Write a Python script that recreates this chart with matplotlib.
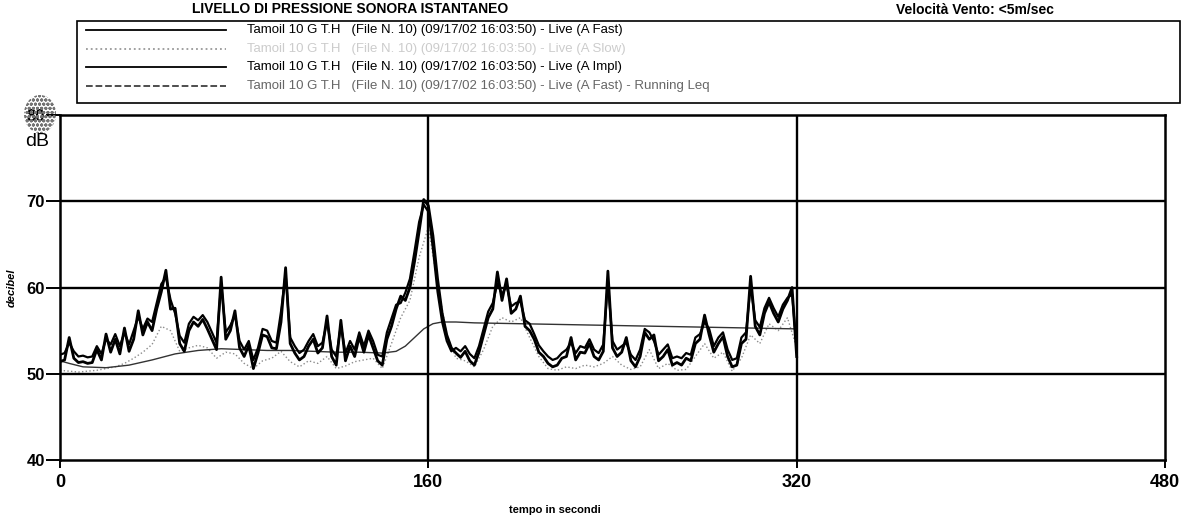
import numpy as np
import matplotlib
matplotlib.use("Agg")
import matplotlib.pyplot as plt
from matplotlib.patches import Rectangle, Ellipse
from matplotlib.lines import Line2D

plt.rcParams['font.family'] = ['Liberation Sans', 'DejaVu Sans']

# livello A Fast, un campione ogni 2 s (0..320 s)
fast_db = [
    51.4, 51.6, 54.2, 51.8, 51.3, 51.4, 51.2, 51.3, 52.8, 51.6,
    54.6, 52.5, 54.0, 52.3, 55.3, 52.6, 54.0, 57.3, 54.5, 56.0,
    55.0, 57.5, 59.5, 62.0, 57.5, 57.6, 53.5, 52.6, 55.0, 56.0,
    55.5, 56.3, 55.2, 54.0, 52.8, 61.2, 54.0, 55.0, 57.3, 53.0,
    52.0, 53.3, 50.6, 52.4, 54.5, 54.3, 53.0, 52.9, 56.0, 62.3,
    53.5, 52.4, 51.6, 52.0, 53.2, 54.0, 52.4, 53.0, 56.7, 52.0,
    51.0, 56.2, 51.5, 53.2, 52.0, 54.3, 52.5, 54.5, 53.0, 51.5,
    51.0, 54.0, 55.5, 57.5, 59.0, 58.5, 60.0, 63.0, 66.5, 70.2,
    69.5, 66.0, 61.0, 57.0, 54.5, 53.0, 52.4, 51.9, 52.6, 51.5,
    51.0, 52.5, 54.5, 56.5, 57.5, 61.8, 58.5, 61.0, 57.0, 57.5,
    59.0, 55.5, 55.0, 54.0, 52.5, 52.0, 51.2, 50.8, 51.0, 51.8,
    52.0, 54.2, 51.6, 52.5, 52.4, 53.5, 52.0, 51.6, 52.6, 61.9,
    53.0, 52.0, 52.5, 54.2, 51.5, 50.8, 52.0, 54.8, 54.0, 54.5,
    51.5, 52.0, 52.8, 51.0, 51.3, 51.0, 51.8, 51.5, 53.5, 54.0,
    56.8, 54.5, 52.5, 53.5, 54.3, 52.0, 50.8, 51.0, 53.5, 54.0,
    61.3, 55.5, 54.5, 57.0, 58.3, 57.0, 56.0, 57.5, 58.5, 60.0,
    52.0,
]

# livello A Impulse, stessi istanti
impl_db = [
    52.2, 52.4, 53.6, 52.6, 52.0, 52.1, 51.9, 52.0, 53.2, 52.3,
    54.0, 53.4, 54.6, 53.2, 54.8, 53.4, 55.0, 56.6, 55.2, 56.4,
    56.0, 58.2, 60.4, 61.2, 58.6, 57.0, 54.4, 53.6, 55.8, 56.6,
    56.2, 56.8, 56.0, 54.8, 53.6, 60.4, 54.8, 55.6, 56.8, 53.8,
    52.8, 53.8, 51.6, 53.0, 55.2, 55.0, 53.8, 53.6, 57.2, 61.6,
    54.2, 53.2, 52.4, 52.8, 53.8, 54.6, 53.2, 53.6, 56.0, 52.8,
    52.0, 55.6, 52.4, 53.8, 52.8, 54.8, 53.2, 55.0, 53.8, 52.2,
    52.0, 54.8, 56.4, 58.0, 58.2, 59.4, 61.0, 64.2, 67.6, 69.6,
    68.8, 64.5, 59.5, 56.0, 53.8, 52.6, 53.0, 52.6, 53.2, 52.3,
    51.8, 53.2, 55.2, 57.2, 58.2, 60.5, 59.2, 60.2, 57.8, 58.2,
    58.4, 56.2, 55.8, 54.6, 53.3, 52.6, 52.0, 51.6, 51.8, 52.4,
    52.8, 53.6, 52.4, 53.2, 53.0, 54.0, 52.8, 52.4, 53.4, 60.6,
    53.8, 52.8, 53.2, 53.6, 52.2, 51.6, 52.8, 55.2, 54.8, 53.8,
    52.2, 52.8, 53.4, 51.8, 52.0, 51.8, 52.4, 52.2, 54.2, 54.6,
    56.0, 55.2, 53.2, 54.2, 54.8, 52.8, 51.6, 51.8, 54.2, 54.8,
    60.2, 56.2, 55.4, 57.6, 58.8, 57.6, 56.6, 58.0, 58.8, 59.2,
    53.0,
]

# seconda traccia (grigia, puntinata), un campione ogni 4 s
slow_db = [
    50.4, 50.3, 50.2, 50.3, 50.4, 50.6, 50.8, 51.2, 51.8, 52.5,
    53.4, 55.5, 55.0, 52.6, 53.0, 53.3, 53.0, 51.8, 52.5, 52.3,
    51.2, 50.6, 51.5, 51.8, 52.6, 51.4, 50.8, 51.5, 51.2, 52.0,
    50.6, 50.9, 51.4, 51.6, 51.8, 50.6, 53.5, 56.5, 58.5, 63.5,
    67.0, 60.5, 54.5, 51.8, 51.5, 50.8, 52.8, 55.5, 56.5, 56.0,
    56.5, 54.2, 52.0, 50.6, 50.4, 50.8, 50.6, 51.0, 50.8, 51.2,
    52.0, 51.0, 50.5, 50.8, 52.8, 50.6, 51.2, 50.4, 50.5, 52.0,
    53.5, 51.8, 52.5, 50.3, 51.8, 54.5, 53.5, 55.8, 55.0, 56.5,
    53.0,
]

# Leq progressivo
leq_t = [0, 4, 10, 20, 30, 40, 50, 60, 70, 80, 90, 100, 110, 120, 130, 140,
         146, 150, 154, 158, 162, 166, 172, 180, 200, 220, 240, 260, 280, 300, 320]
leq_db = [51.5, 51.2, 50.8, 50.7, 51.0, 51.6, 52.3, 52.7, 52.9, 52.8, 52.7,
          52.7, 52.6, 52.5, 52.5, 52.4, 52.6, 53.2, 54.2, 55.2, 55.8, 56.0,
          56.0, 55.9, 55.8, 55.7, 55.6, 55.5, 55.4, 55.3, 55.2]

x_ticks = [0, 160, 320, 480]
y_ticks = [40, 50, 60, 70, 80]

legend_rows = [
    ("Tamoil 10 G T.H   (File N. 10) (09/17/02 16:03:50) - Live (A Fast)", "black", "-", "black"),
    ("Tamoil 10 G T.H   (File N. 10) (09/17/02 16:03:50) - Live (A Slow)", "0.6", ":", "0.8"),
    ("Tamoil 10 G T.H   (File N. 10) (09/17/02 16:03:50) - Live (A Impl)", "black", "-", "black"),
    ("Tamoil 10 G T.H   (File N. 10) (09/17/02 16:03:50) - Live (A Fast) - Running Leq", "0.25", "--", "0.4"),
]

W, H = 1195, 521


def fx(px):
    return px / W


def fy(py):
    return 1 - py / H


t2 = np.arange(0, 321, 2)
t4 = np.arange(0, 321, 4)

fig = plt.figure(figsize=(W / 100, H / 100), dpi=100)
ax = fig.add_axes([fx(60), fy(460), 1105 / W, 345 / H])

ax.plot(t4, slow_db, color='0.55', lw=1.0, ls=':')
ax.plot(leq_t, leq_db, color='0.2', lw=1.0)
ax.plot(t2, impl_db, color='black', lw=1.6)
ax.plot(t2, fast_db, color='black', lw=2.0)

ax.set_xlim(0, 480)
ax.set_ylim(40, 80)
ax.set_xticks(x_ticks)
ax.set_xticklabels([str(v) for v in x_ticks], fontsize=13, fontweight='bold')
ax.set_yticks(y_ticks)
ax.set_yticklabels([str(v) for v in y_ticks], fontsize=12, fontweight='bold')
ax.tick_params(axis='y', length=10, width=1.4, pad=1)
ax.tick_params(axis='x', length=6, width=1.4, pad=4)

for v in [50, 60, 70]:
    ax.axhline(v, color='black', lw=1.7)
for v in [160, 320]:
    ax.axvline(v, color='black', lw=1.7)
for s in ax.spines.values():
    s.set_linewidth(1.8)

# retinatura sopra l'etichetta 80
blob = Ellipse((fx(40), fy(114)), 32 / W, 38 / H, transform=fig.transFigure,
               facecolor='none', edgecolor='0.45', hatch='oooo', lw=0, zorder=5)
fig.patches.append(blob)
fig.text(fx(37), fy(141), "dB", fontsize=14, ha='center', va='center')

ax.set_ylabel("decibel", fontsize=8, fontstyle='italic', fontweight='bold')
ax.yaxis.set_label_coords(fx(13) - fx(60), 0.5, transform=ax.transAxes)
fig.text(fx(555), fy(510), "tempo in secondi", fontsize=8, fontweight='bold',
         ha='center', va='center')

# riquadro legenda
fig.patches.append(Rectangle((fx(77), fy(103)), (1180 - 77) / W, 82 / H,
                             transform=fig.transFigure, fill=False,
                             edgecolor='black', lw=1.2))
row_y = [30, 49, 67, 86]
for (label, lcolor, lstyle, tcolor), py in zip(legend_rows, row_y):
    fig.lines.append(Line2D([fx(86), fx(226)], [fy(py), fy(py)],
                            transform=fig.transFigure, color=lcolor,
                            ls=lstyle, lw=1.3))
    fig.text(fx(247), fy(py), label, fontsize=9.5, color=tcolor,
             ha='left', va='center')

fig.text(fx(350), fy(9), "LIVELLO DI PRESSIONE SONORA ISTANTANEO",
         fontsize=10, fontweight='bold', ha='center', va='center')
fig.text(fx(975), fy(10), "Velocità Vento: <5m/sec", fontsize=10,
         fontweight='bold', ha='center', va='center')

fig.savefig("out.png", dpi=100)
